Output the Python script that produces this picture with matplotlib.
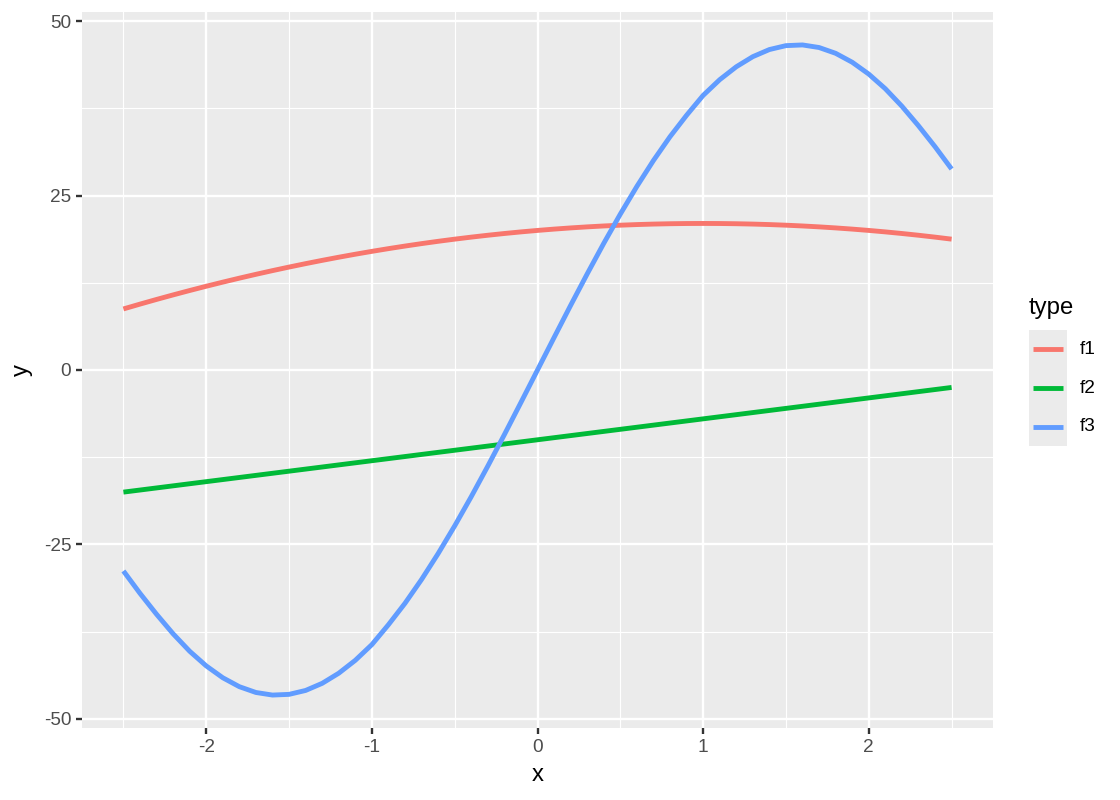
import numpy as np
import matplotlib
matplotlib.use('Agg')
import matplotlib.pyplot as plt
from matplotlib.patches import Rectangle
from matplotlib.lines import Line2D

plt.rcParams['font.family'] = ['Liberation Sans', 'DejaVu Sans']
plt.rcParams['axes.unicode_minus'] = False

# x grid shared by the three curves (step 0.1 from -2.5 to 2.5)
x = np.linspace(-2.5, 2.5, 51)

f1 = [8.75, 9.44, 10.11, 10.76, 11.39, 12.00, 12.59, 13.16, 13.71, 14.24, 14.75,
      15.24, 15.71, 16.16, 16.59, 17.00, 17.39, 17.76, 18.11, 18.44, 18.75,
      19.04, 19.31, 19.56, 19.79, 20.00, 20.19, 20.36, 20.51, 20.64, 20.75,
      20.84, 20.91, 20.96, 20.99, 21.00, 20.99, 20.96, 20.91, 20.84, 20.75,
      20.64, 20.51, 20.36, 20.19, 20.00, 19.79, 19.56, 19.31, 19.04, 18.75]

f2 = [-17.5, -17.2, -16.9, -16.6, -16.3, -16.0, -15.7, -15.4, -15.1, -14.8, -14.5,
      -14.2, -13.9, -13.6, -13.3, -13.0, -12.7, -12.4, -12.1, -11.8, -11.5,
      -11.2, -10.9, -10.6, -10.3, -10.0, -9.7, -9.4, -9.1, -8.8, -8.5,
      -8.2, -7.9, -7.6, -7.3, -7.0, -6.7, -6.4, -6.1, -5.8, -5.5,
      -5.2, -4.9, -4.6, -4.3, -4.0, -3.7, -3.4, -3.1, -2.8, -2.5]

f3 = [-28.80, -32.00, -35.00, -37.80, -40.30, -42.40, -44.10, -45.38, -46.21, -46.58, -46.48,
      -45.92, -44.90, -43.45, -41.60, -39.35, -36.50, -33.43, -30.02, -26.31, -22.34,
      -18.15, -13.77, -9.26, -4.65, 0.00, 4.65, 9.26, 13.77, 18.15, 22.34,
      26.31, 30.02, 33.43, 36.50, 39.35, 41.60, 43.45, 44.90, 45.92, 46.48,
      46.58, 46.21, 45.38, 44.10, 42.40, 40.30, 37.80, 35.00, 32.00, 28.80]

series = ['f1', 'f2', 'f3']
colors = ['#F8766D', '#00BA38', '#619CFF']

x_ticks = [-2, -1, 0, 1, 2]
y_ticks = [-50, -25, 0, 25, 50]

fig = plt.figure(figsize=(11.2, 8), dpi=100)
ax = fig.add_axes([82 / 1120, 1 - 728 / 800, (993 - 82) / 1120, (728 - 12) / 800])
ax.set_facecolor('#EBEBEB')

for name, vals, c in zip(series, [f1, f2, f3], colors):
    ax.plot(x, vals, color=c, lw=3.5, solid_capstyle='butt',
            solid_joinstyle='round', zorder=3)

ax.set_xlim(-2.75, 2.75)
ax.set_ylim(-51.3, 51.3)
ax.set_xticks(x_ticks)
ax.set_xticklabels([str(t) for t in x_ticks])
ax.set_yticks(y_ticks)
ax.set_yticklabels([str(t) for t in y_ticks])
ax.set_xticks([-2.5, -1.5, -0.5, 0.5, 1.5, 2.5], minor=True)
ax.set_yticks([-37.5, -12.5, 12.5, 37.5], minor=True)

ax.grid(which='major', color='white', lw=1.7, zorder=1)
ax.grid(which='minor', color='white', lw=0.85, zorder=1)
ax.set_axisbelow(True)
for s in ax.spines.values():
    s.set_visible(False)

ax.tick_params(which='major', length=4.3, width=1.7, color='#333333',
               labelsize=13.7, labelcolor='#4D4D4D', pad=3.5)
ax.tick_params(which='minor', length=0)

ax.set_xlabel('x', fontsize=17.2, color='black', labelpad=6)
ax.set_ylabel('y', fontsize=17.2, color='black', labelpad=8)

# ggplot-style legend at the right
W, H = 1120, 800
fig.text(1029 / W, 1 - 308 / H, 'type', fontsize=17.2, va='center', ha='left')
key_top = 330
key_h = 38.7
fig.add_artist(Rectangle((1029 / W, 1 - (key_top + 3 * key_h) / H), 38 / W, 3 * key_h / H,
                         transform=fig.transFigure, facecolor='#EBEBEB', edgecolor='none'))
for i, (name, c) in enumerate(zip(series, colors)):
    yc = 1 - (key_top + key_h * (i + 0.5)) / H
    fig.add_artist(Line2D([1033 / W, 1063 / W], [yc, yc], transform=fig.transFigure,
                          color=c, lw=3.5, solid_capstyle='butt'))
    fig.text(1080 / W, yc, name, fontsize=13.7, va='center', ha='left')

fig.savefig('out.png', dpi=100)
